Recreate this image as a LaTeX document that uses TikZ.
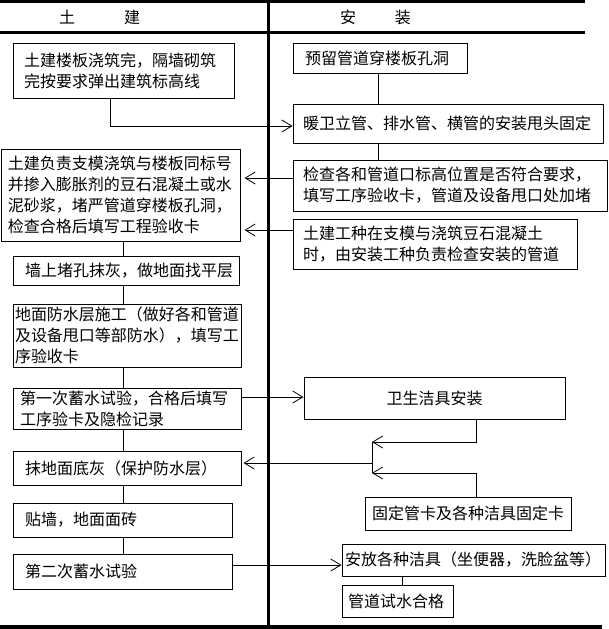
\documentclass[tikz,border=0pt]{standalone}
\usepackage{fontspec}
\newfontfamily\cjk{Noto Sans CJK SC}
\usetikzlibrary{arrows.meta}
\tikzset{
  box/.style={draw, line width=1pt, rectangle, inner ysep=0pt, align=left,
    font=\cjk\fontsize{16}{21}\selectfont},
  cbox/.style={box, align=center},
  hdr/.style={inner sep=0pt, font=\cjk\fontsize{16}{21}\selectfont},
  conn/.style={line width=0.8pt},
  arr/.style={conn, -{Straight Barb[length=10pt,width=12pt,line width=0.8pt]}},
  rule/.style={line width=3pt},
}
\begin{document}
\begin{tikzpicture}[x=1pt,y=-1pt]
\useasboundingbox (0,0) rectangle (609,629);
% frame rules
\draw[rule] (0,1.5) -- (585,1.5);
\draw[rule] (0,32.5) -- (585,32.5);
\draw[rule] (268.5,0) -- (268.5,627);
\fill (0,625) rectangle (602,629);
% headers
\node[hdr] (t1) at (99.5,17) {土\hspace{49pt}建};
\node[hdr] (t2) at (375.5,17) {安\hspace{39pt}装};
% left column
\node[box, inner xsep=11pt, text width=199pt, minimum height=55pt] (l1) at (123.5,70.5)
  {土建楼板浇筑完，隔墙砌筑\\完按要求弹出建筑标高线};
\node[box, inner xsep=7pt, text width=225pt, minimum height=92pt] (l2) at (120.5,195)
  {土建负责支模浇筑与楼板同标号\\并掺入膨胀剂的豆石混凝土或水\\泥砂浆，堵严管道穿楼板孔洞，\\检查合格后填写工程验收卡};
\node[box, inner xsep=12pt, text width=202pt, minimum height=29pt] (l3) at (126,270.5)
  {墙上堵孔抹灰，做地面找平层};
\node[box, inner xsep=2pt, text width=224pt, minimum height=63pt] (l4) at (127,335.5)
  {地面防水层施工（做好各和管道\\及设备甩口等部防水），填写工\\序验收卡};
\node[box, inner xsep=7pt, text width=214pt, minimum height=41pt] (l5) at (127,408.5)
  {第一次蓄水试验，合格后填写\\工序验卡及隐检记录};
\node[box, inner xsep=12pt, text width=204pt, minimum height=34pt] (l6) at (127,468)
  {抹地面底灰（保护防水层）};
\node[box, inner xsep=12pt, text width=195pt, minimum height=34pt] (l7) at (122.5,520)
  {贴墙，地面面砖};
\node[box, inner xsep=12pt, text width=195pt, minimum height=35pt] (l8) at (122.5,571.5)
  {第二次蓄水试验};
% right column
\node[box, inner xsep=12pt, text width=150pt, minimum height=30pt] (r1) at (380,58)
  {预留管道穿楼板孔洞};
\node[box, inner xsep=10pt, text width=290pt, minimum height=39pt] (r2) at (448,123.5)
  {暖卫立管、排水管、横管的安装甩头固定};
\node[box, inner xsep=10pt, text width=294pt, minimum height=51pt] (r3) at (450,185.5)
  {检查各和管道口标高位置是否符合要求，\\填写工序验收卡，管道及设备甩口处加堵};
\node[box, inner xsep=10pt, text width=264pt, minimum height=50pt] (r4) at (435,244)
  {土建工种在支模与浇筑豆石混凝土\\时，由安装工种负责检查安装的管道};
\node[cbox, inner xsep=10pt, text width=241pt, minimum height=42pt] (r5) at (434.5,398)
  {卫生洁具安装};
\node[cbox, inner xsep=5pt, text width=196pt, minimum height=33pt] (r6) at (468,513.5)
  {固定管卡及各种洁具固定卡};
\node[box, inner xsep=3pt, text width=257pt, minimum height=32pt] (r7) at (473.5,560)
  {安放各种洁具（坐便器，洗脸盆等）};
\node[box, inner xsep=6pt, text width=99pt, minimum height=32pt] (r8) at (397.5,601)
  {管道试水合格};
% helper coordinates
\coordinate (a1) at (110,126);
\coordinate (v1) at (378,0);
\coordinate (v2) at (123,0);
\coordinate (v3) at (476,0);
\coordinate (v4) at (402,0);
\coordinate (h1) at (0,178);
\coordinate (h2) at (0,230);
\coordinate (h3) at (0,397);
\coordinate (h4) at (0,565);
\coordinate (j1) at (372,442);
\coordinate (j2) at (372,473);
\coordinate (j3) at (372,463);
% connectors
\draw[arr] (l1.south -| a1) |- (r2.west |- a1);
\draw[conn] (r1.south -| v1) -- (r2.north -| v1);
\draw[conn] (r2.south -| v1) -- (r3.north -| v1);
\draw[arr, shorten >=4pt] (r3.west |- h1) -- (l2.east |- h1);
\draw[arr, shorten >=4pt] (r4.west |- h2) -- (l2.east |- h2);
\draw[conn] (l2.south -| v2) -- (l3.north -| v2);
\draw[conn] (l3.south -| v2) -- (l4.north -| v2);
\draw[conn] (l4.south -| v2) -- (l5.north -| v2);
\draw[conn] (l5.south -| v2) -- (l6.north -| v2);
\draw[conn] (l6.south -| v2) -- (l7.north -| v2);
\draw[conn] (l7.south -| v2) -- (l8.north -| v2);
\draw[arr] (l5.east |- h3) -- (r5.west |- h3);
\draw[arr] (r5.south -| v3) |- (j1);
\draw[conn] (j1) -- (j2);
\draw[arr, shorten >=2pt] (j3) -- (l6.east |- j3);
\draw[arr] (r6.north -| v3) |- (j2);
\draw[arr] (l8.east |- h4) -- (r7.west |- h4);
\draw[conn] (r7.south -| v4) -- (r8.north -| v4);
\end{tikzpicture}
\end{document}
